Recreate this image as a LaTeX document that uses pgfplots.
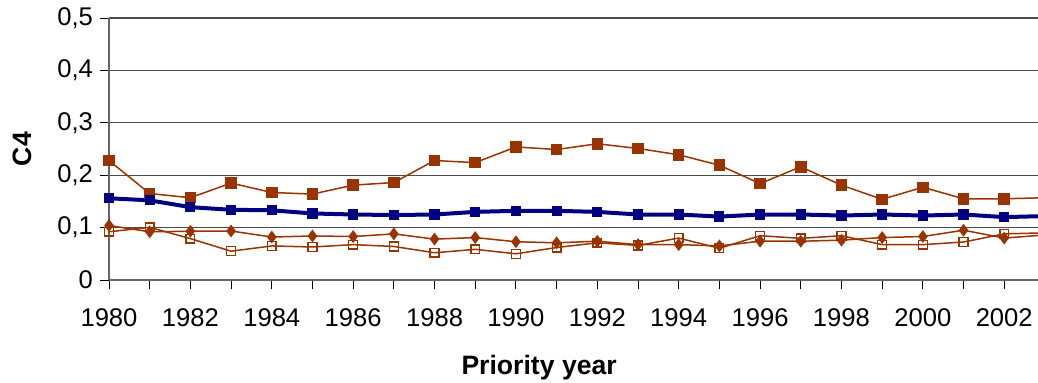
\documentclass[border=0pt]{standalone}
\usepackage{pgfplots}
\pgfplotsset{compat=1.18}
\usepackage{fontspec}
\setmainfont{Liberation Sans}
\definecolor{rust}{HTML}{993300}
\definecolor{navyline}{HTML}{000080}

\begin{document}
\begin{tikzpicture}
\useasboundingbox (0,0) rectangle (519bp,191.5bp);
\begin{axis}[
  at={(54.5bp,51.5bp)}, anchor=south west,
  scale only axis,
  width=464.5bp, height=131bp,
  xmin=1980, xmax=2002.83,
  ymin=0, ymax=0.5,
  axis lines=left,
  axis line style={-, draw=gray!80!black, line width=0.6bp},
  ytick={0,0.1,0.2,0.3,0.4,0.5},
  yticklabels={0,{0,1},{0,2},{0,3},{0,4},{0,5}},
  xtick={1980,1982,...,2002},
  minor xtick={1981,1983,...,2001},
  xticklabel style={/pgf/number format/1000 sep=, yshift=-6.5bp},
  tick align=outside,
  major tick length=4.5bp,
  minor tick length=4.5bp,
  tick style={draw=black, line width=0.5bp},
  ymajorgrids,
  major grid style={draw=gray!60!black, line width=0.6bp},
  tick label style={font=\fontsize{12.8bp}{14bp}\selectfont},
  /pgf/number format/assume math mode=true,
  xlabel={\textbf{Priority year}},
  ylabel={\textbf{C4}},
  label style={font=\fontsize{13.3bp}{15bp}\selectfont},
  xlabel style={at={(axis description cs:0.463,-0.336)}, anchor=center},
  ylabel style={at={(axis description cs:-0.0937,0.5)}, anchor=center},
  clip=true,
]
% upper series, filled squares
\addplot[rust, line width=0.75bp, mark=square*, mark size=2.5bp, mark options={fill=rust, solid}] coordinates {
(1980,0.228) (1981,0.165) (1982,0.157) (1983,0.185) (1984,0.167) (1985,0.164)
(1986,0.181) (1987,0.186) (1988,0.228) (1989,0.224) (1990,0.254) (1991,0.249)
(1992,0.260) (1993,0.251) (1994,0.239) (1995,0.219) (1996,0.184) (1997,0.216)
(1998,0.181) (1999,0.154) (2000,0.177) (2001,0.155) (2002,0.155) (2003,0.157)};
% navy series
\addplot[navyline, line width=2bp, mark=square*, mark size=2.3bp, mark options={fill=navyline, solid, line width=0.5bp}] coordinates {
(1980,0.156) (1981,0.152) (1982,0.139) (1983,0.134) (1984,0.133) (1985,0.127)
(1986,0.125) (1987,0.124) (1988,0.125) (1989,0.130) (1990,0.132) (1991,0.132)
(1992,0.130) (1993,0.125) (1994,0.125) (1995,0.121) (1996,0.125) (1997,0.125)
(1998,0.123) (1999,0.125) (2000,0.123) (2001,0.125) (2002,0.120) (2003,0.122)};
% diamonds
\addplot[rust, line width=0.75bp, mark=diamond*, mark size=2.6bp, mark options={fill=rust, solid}] coordinates {
(1980,0.104) (1981,0.092) (1982,0.093) (1983,0.0935) (1984,0.082) (1985,0.084)
(1986,0.083) (1987,0.088) (1988,0.078) (1989,0.081) (1990,0.073) (1991,0.071)
(1992,0.074) (1993,0.0675) (1994,0.0675) (1995,0.065) (1996,0.074) (1997,0.074)
(1998,0.076) (1999,0.081) (2000,0.083) (2001,0.095) (2002,0.080) (2003,0.086)};
% open squares
\addplot[rust, line width=0.75bp, mark=square, mark size=2.2bp, mark options={fill=white, solid, line width=0.7bp}] coordinates {
(1980,0.092) (1981,0.1005) (1982,0.079) (1983,0.055) (1984,0.065) (1985,0.063)
(1986,0.0675) (1987,0.064) (1988,0.052) (1989,0.0585) (1990,0.050) (1991,0.062)
(1992,0.071) (1993,0.066) (1994,0.080) (1995,0.0605) (1996,0.0845) (1997,0.0795)
(1998,0.0845) (1999,0.0675) (2000,0.0675) (2001,0.0725) (2002,0.088) (2003,0.090)};
\end{axis}
\end{tikzpicture}
\end{document}
